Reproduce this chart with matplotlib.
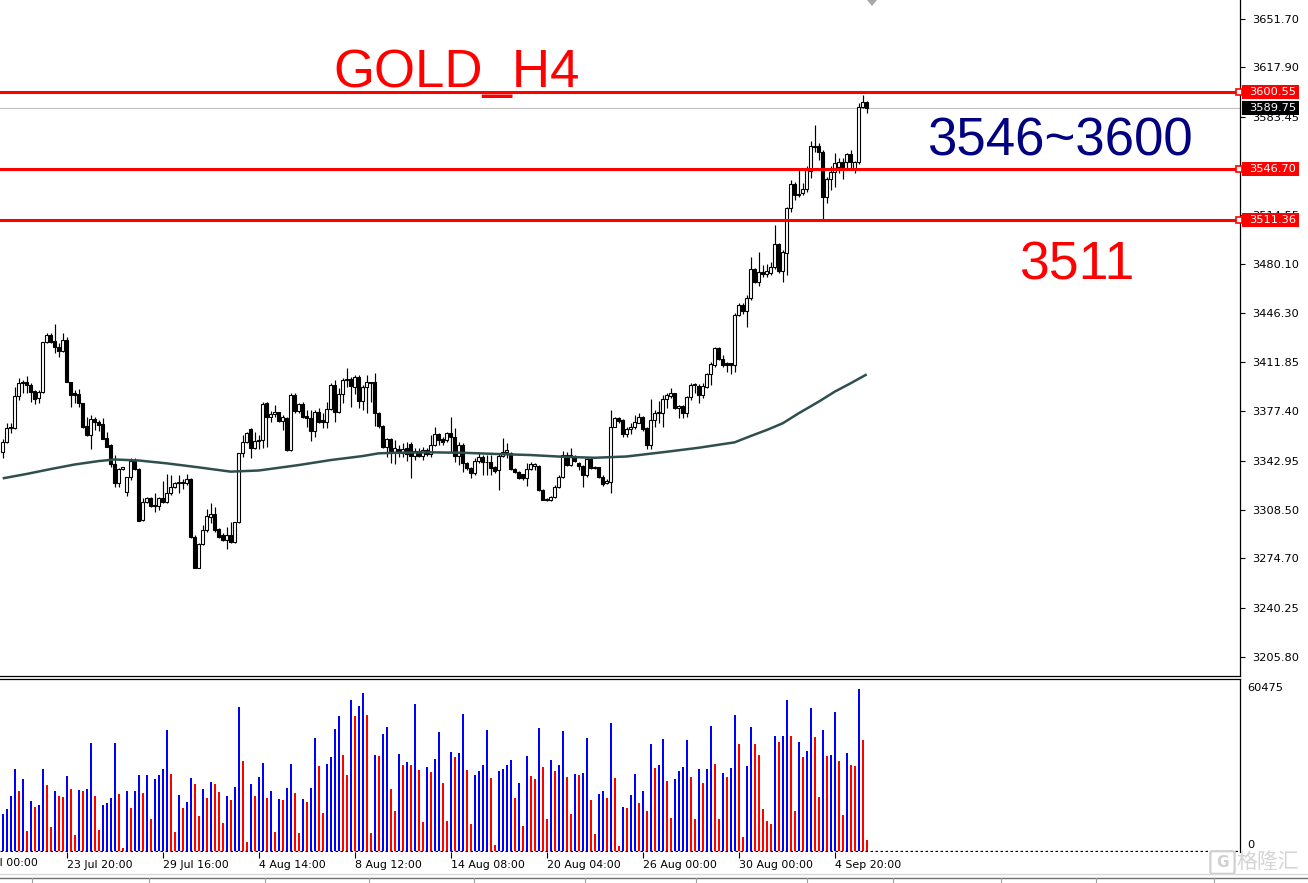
import matplotlib
matplotlib.use("Agg")
import matplotlib.pyplot as plt
from matplotlib.lines import Line2D
from matplotlib.patches import Rectangle, Polygon, FancyBboxPatch

# ---------------- data ----------------
opens = [
    3349.3, 3355.8, 3365.6, 3365.6, 3388.2, 3397.0, 3398.2, 3395.9, 3391.7, 3386.6,
    3390.8, 3425.7, 3430.6, 3426.6, 3422.2, 3419.9, 3427.3, 3397.7, 3390.0, 3389.4,
    3383.1, 3367.2, 3360.9, 3372.1, 3370.2, 3368.6, 3358.6, 3353.9, 3340.7, 3327.1,
    3336.9, 3321.0, 3331.3, 3342.8, 3337.0, 3301.5, 3313.9, 3316.7, 3312.0, 3311.5,
    3316.7, 3314.3, 3320.1, 3324.3, 3327.5, 3327.5, 3327.1, 3329.9, 3289.9, 3268.2,
    3284.5, 3294.5, 3303.8, 3305.7, 3295.0, 3291.0, 3287.5, 3291.0, 3286.0, 3299.9,
    3348.1, 3356.3, 3364.8, 3351.6, 3357.0, 3357.4, 3383.0, 3373.2, 3375.5, 3376.7,
    3370.9, 3373.0, 3350.4, 3388.8, 3377.9, 3382.3, 3374.2, 3372.5, 3363.9, 3376.7,
    3371.4, 3369.7, 3378.8, 3395.8, 3377.2, 3389.3, 3399.3, 3400.0, 3394.7, 3401.7,
    3384.9, 3394.2, 3397.7, 3397.7, 3376.5, 3367.0, 3352.3, 3358.1, 3348.8, 3350.9,
    3348.5, 3351.5, 3354.5, 3346.4, 3349.9, 3346.4, 3350.4, 3347.4, 3353.9, 3361.6,
    3357.9, 3357.4, 3362.5, 3359.5, 3346.5, 3354.0, 3341.1, 3337.6, 3334.1, 3342.8,
    3345.8, 3341.8, 3341.8, 3338.8, 3336.2, 3346.5, 3348.8, 3348.1, 3337.2, 3335.3,
    3333.4, 3330.6, 3337.2, 3339.5, 3339.5, 3322.5, 3316.5, 3315.5, 3317.8, 3324.8,
    3331.8, 3347.0, 3340.0, 3346.0, 3341.0, 3339.0, 3332.9, 3343.9, 3338.7, 3338.3,
    3331.8, 3327.1, 3328.3, 3366.8, 3372.6, 3371.4, 3361.6, 3364.9, 3366.3, 3369.6,
    3373.8, 3365.6, 3354.0, 3371.4, 3376.6, 3376.6, 3385.9, 3388.2, 3390.0, 3379.6,
    3381.2, 3376.1, 3387.3, 3395.9, 3395.2, 3388.9, 3394.8, 3403.6, 3409.9, 3421.5,
    3413.8, 3411.5, 3411.0, 3409.7, 3444.8, 3451.8, 3447.9, 3456.5, 3476.8, 3468.1,
    3475.1, 3473.5, 3474.4, 3478.2, 3494.5, 3475.8, 3488.4, 3519.4, 3536.4, 3528.7,
    3529.9, 3532.7, 3545.7, 3562.5, 3563.0, 3559.0, 3527.5, 3539.7, 3545.0, 3548.5,
    3551.5, 3552.0, 3557.1, 3546.9, 3551.5, 3590.5, 3593.5,
]
highs = [
    3358.1, 3369.1, 3369.1, 3394.3, 3400.5, 3399.4, 3402.2, 3397.0, 3392.4, 3392.4,
    3426.2, 3432.0, 3432.5, 3438.5, 3425.0, 3432.5, 3429.7, 3398.2, 3392.4, 3392.8,
    3383.5, 3373.7, 3374.9, 3373.3, 3371.4, 3372.6, 3363.3, 3354.4, 3346.9, 3337.6,
    3338.8, 3331.8, 3344.6, 3345.0, 3337.6, 3316.7, 3317.8, 3317.8, 3320.1, 3317.8,
    3329.0, 3333.7, 3333.0, 3327.8, 3333.0, 3330.0, 3333.7, 3330.6, 3291.0, 3285.2,
    3298.0, 3309.0, 3313.6, 3310.4, 3295.7, 3292.2, 3296.8, 3300.3, 3300.3, 3348.6,
    3360.9, 3363.3, 3365.5, 3363.2, 3360.9, 3384.2, 3384.2, 3377.9, 3381.8, 3377.2,
    3374.9, 3373.7, 3390.0, 3390.0, 3383.0, 3384.2, 3378.4, 3378.4, 3378.4, 3379.5,
    3376.0, 3384.2, 3397.0, 3399.3, 3393.5, 3400.5, 3407.5, 3401.7, 3402.8, 3402.8,
    3395.8, 3402.8, 3398.2, 3404.0, 3377.2, 3368.0, 3358.6, 3358.6, 3357.4, 3353.9,
    3355.0, 3356.2, 3356.2, 3351.6, 3351.6, 3352.3, 3351.6, 3360.9, 3366.7, 3362.5,
    3359.7, 3363.2, 3373.7, 3365.5, 3356.0, 3355.5, 3342.0, 3338.5, 3344.6, 3348.0,
    3347.0, 3347.0, 3347.0, 3339.5, 3347.4, 3358.6, 3355.1, 3349.0, 3338.0, 3336.0,
    3334.0, 3341.1, 3341.8, 3341.1, 3340.0, 3323.0, 3317.0, 3318.5, 3326.0, 3333.0,
    3350.0, 3349.0, 3352.0, 3347.0, 3342.0, 3340.0, 3344.6, 3344.6, 3339.2, 3338.7,
    3332.9, 3329.9, 3378.4, 3373.8, 3373.2, 3371.8, 3366.8, 3369.6, 3374.9, 3376.1,
    3374.2, 3366.8, 3385.9, 3378.4, 3385.0, 3388.9, 3390.0, 3393.6, 3390.5, 3381.9,
    3381.9, 3388.2, 3397.1, 3397.1, 3396.6, 3397.1, 3404.5, 3412.2, 3422.7, 3422.7,
    3416.9, 3412.2, 3411.5, 3446.0, 3453.5, 3453.0, 3458.8, 3485.6, 3477.5, 3489.1,
    3479.8, 3480.5, 3482.1, 3507.8, 3495.4, 3490.3, 3520.6, 3539.2, 3538.0, 3546.2,
    3536.9, 3549.0, 3566.7, 3577.6, 3564.8, 3560.2, 3541.5, 3549.0, 3557.8, 3554.8,
    3554.3, 3557.8, 3560.2, 3552.5, 3592.8, 3598.6, 3594.4,
]
lows = [
    3344.6, 3355.1, 3362.0, 3365.0, 3385.4, 3390.5, 3390.0, 3384.2, 3382.4, 3383.5,
    3390.0, 3425.0, 3425.0, 3418.5, 3415.2, 3419.2, 3397.7, 3380.7, 3383.0, 3380.7,
    3365.6, 3360.2, 3350.9, 3364.4, 3364.0, 3357.9, 3352.3, 3338.8, 3324.3, 3324.8,
    3336.5, 3318.5, 3329.5, 3336.5, 3301.0, 3301.0, 3313.2, 3310.4, 3307.3, 3308.5,
    3313.2, 3313.2, 3319.0, 3323.6, 3320.1, 3323.0, 3326.0, 3288.7, 3267.7, 3267.7,
    3284.0, 3293.4, 3299.2, 3293.4, 3288.7, 3287.1, 3281.0, 3285.2, 3285.2, 3299.2,
    3345.8, 3355.6, 3344.6, 3350.9, 3350.9, 3351.6, 3352.7, 3370.2, 3373.7, 3370.2,
    3364.4, 3349.9, 3349.9, 3376.0, 3376.5, 3372.5, 3366.7, 3356.9, 3359.7, 3369.2,
    3365.5, 3365.5, 3378.3, 3370.2, 3376.0, 3383.5, 3394.7, 3380.7, 3389.5, 3379.5,
    3378.3, 3376.5, 3384.2, 3367.2, 3366.0, 3351.6, 3345.7, 3341.1, 3340.6, 3345.3,
    3345.7, 3342.9, 3330.6, 3343.4, 3345.3, 3343.4, 3346.2, 3345.7, 3353.2, 3353.9,
    3353.9, 3356.2, 3349.0, 3342.0, 3340.0, 3335.0, 3336.5, 3330.6, 3333.0, 3341.5,
    3333.0, 3333.0, 3333.0, 3334.5, 3322.5, 3345.8, 3344.6, 3336.5, 3334.1, 3330.5,
    3329.5, 3325.5, 3336.5, 3336.5, 3321.8, 3315.5, 3314.8, 3314.8, 3316.6, 3323.6,
    3331.0, 3339.2, 3339.0, 3342.0, 3336.4, 3324.3, 3331.8, 3336.9, 3336.9, 3330.6,
    3325.2, 3326.6, 3320.6, 3366.2, 3369.0, 3359.8, 3359.3, 3361.6, 3364.9, 3369.1,
    3364.0, 3350.9, 3350.9, 3366.3, 3369.6, 3366.8, 3379.6, 3386.6, 3378.9, 3372.6,
    3372.6, 3373.8, 3385.4, 3390.0, 3383.6, 3386.6, 3393.6, 3395.9, 3408.7, 3413.4,
    3408.7, 3405.2, 3403.6, 3405.2, 3443.8, 3445.5, 3436.2, 3455.3, 3467.0, 3465.1,
    3471.6, 3471.6, 3472.8, 3476.8, 3474.0, 3468.1, 3472.8, 3517.1, 3525.2, 3527.5,
    3528.7, 3531.1, 3540.4, 3559.0, 3553.2, 3511.2, 3523.3, 3532.2, 3534.1, 3543.9,
    3539.9, 3547.4, 3546.2, 3543.9, 3550.1, 3589.3, 3585.8,
]
closes = [
    3355.8, 3365.6, 3366.2, 3388.2, 3397.0, 3398.2, 3395.9, 3391.2, 3385.9, 3391.2,
    3425.7, 3430.6, 3426.2, 3422.2, 3419.9, 3427.3, 3397.7, 3388.9, 3389.0, 3383.1,
    3366.8, 3360.9, 3372.1, 3369.8, 3367.9, 3358.1, 3352.8, 3340.7, 3327.1, 3336.9,
    3338.3, 3331.3, 3342.8, 3337.0, 3301.0, 3313.9, 3316.7, 3311.5, 3311.5, 3316.7,
    3314.3, 3320.1, 3324.3, 3327.1, 3327.6, 3327.6, 3329.9, 3289.9, 3268.2, 3284.5,
    3294.5, 3304.3, 3305.7, 3294.5, 3289.9, 3287.5, 3291.0, 3286.4, 3299.9, 3348.1,
    3356.3, 3362.1, 3351.6, 3356.7, 3357.4, 3382.3, 3373.5, 3375.5, 3377.2, 3370.9,
    3373.2, 3350.4, 3388.8, 3377.9, 3382.3, 3373.7, 3372.5, 3363.9, 3376.7, 3370.2,
    3369.7, 3378.8, 3395.8, 3377.2, 3389.3, 3399.3, 3400.0, 3395.1, 3401.7, 3384.9,
    3394.2, 3397.7, 3397.0, 3376.5, 3367.0, 3352.3, 3358.1, 3348.8, 3351.6, 3348.5,
    3350.9, 3347.5, 3346.4, 3349.9, 3346.4, 3350.4, 3347.4, 3353.9, 3361.6, 3357.4,
    3356.2, 3362.1, 3359.5, 3346.5, 3354.0, 3341.1, 3337.6, 3334.1, 3342.8, 3345.8,
    3341.8, 3342.2, 3337.6, 3335.8, 3346.5, 3348.8, 3350.2, 3337.2, 3334.8, 3331.1,
    3330.6, 3337.2, 3340.4, 3340.8, 3322.5, 3315.5, 3315.3, 3317.8, 3324.8, 3331.8,
    3347.0, 3340.0, 3347.0, 3343.0, 3339.2, 3332.9, 3343.9, 3337.6, 3337.6, 3331.3,
    3326.6, 3329.0, 3366.8, 3372.6, 3371.0, 3361.6, 3364.9, 3366.8, 3370.3, 3373.8,
    3364.9, 3354.0, 3371.4, 3376.6, 3377.0, 3385.9, 3388.9, 3390.0, 3379.6, 3381.2,
    3376.1, 3387.3, 3395.9, 3396.5, 3388.9, 3395.2, 3403.6, 3410.6, 3421.5, 3413.8,
    3409.9, 3409.9, 3409.7, 3444.8, 3451.8, 3447.9, 3456.5, 3476.8, 3468.1, 3475.1,
    3473.5, 3475.8, 3478.2, 3494.5, 3475.8, 3489.1, 3519.4, 3536.4, 3528.7, 3529.7,
    3532.7, 3546.2, 3563.0, 3563.0, 3559.0, 3527.5, 3539.7, 3545.0, 3551.3, 3551.5,
    3548.5, 3557.1, 3551.5, 3551.5, 3590.5, 3593.5, 3589.75,
]
volumes = [
    13813, 15680, 20532, 30611, 22399, 26878, 7467, 18666, 16426, 17173,
    30611, 24639, 8960, 22399, 20532, 20159, 27998, 23145, 5974, 22772,
    22399, 23145, 40317, 20532, 7840, 17173, 17919, 19786, 40317, 21279,
    1121, 22399, 16053, 22399, 28371, 21652, 28371, 11947, 26878, 28371,
    30611, 45169, 28745, 7094, 20906, 16053, 18293, 27252, 25012, 13067,
    23145, 19786, 25758, 25012, 22026, 10454, 20532, 19039, 23892, 53755,
    33598, 3361, 25012, 20532, 27625, 32851, 19786, 22399, 7094, 19412,
    19039, 23519, 32478, 21652, 6721, 19412, 18293, 23519, 42183, 31731,
    14186, 32478, 35091, 45543, 50396, 35837, 28371, 56368, 50396, 54128,
    58981, 50769, 6721, 35837, 35464, 43676, 46289, 23145, 14933, 36211,
    32104, 33224, 32104, 54875, 30238, 10827, 31358, 29491, 34344, 44423,
    25385, 11200,
    36957, 35091, 36584, 51142, 30238, 10080, 28371, 29865, 32104, 45169,
    27252, 2241, 29865, 30611, 32104, 33971, 19786, 25385, 9334, 35464,
    27998, 26878, 45916, 31358, 11947, 33971, 29865, 32104, 44796, 27625,
    13813, 28745, 28496, 29118, 42183, 19039, 6347, 21279, 22399, 19786,
    47783, 27252, 1868, 16426, 16053, 20906, 28745, 17919, 22399, 14933,
    39943, 30984, 32104, 41810, 26132, 12320, 26878, 29865, 31358, 41437,
    27625, 11947, 30611, 25385, 30611, 46663, 32478, 11947, 29118, 27625,
    30984, 50769, 39943, 5227, 31731, 46289, 39943, 35837, 15680, 11200,
    10080, 42930, 40690, 42930, 56368, 42930, 14933, 40690, 35091, 37330,
    53382, 42556, 20159, 45169, 35464, 35837, 51889, 33598, 13440, 36584,
    32104, 31731, 60475, 41437, 4108,
]
# moving average line, read at a set of bar positions
ma_bar = [0, 6, 12, 18, 24, 28, 34, 41, 49, 57, 64, 74, 82, 90, 94, 98, 107,
          115, 124, 132, 140, 148, 156, 166, 174, 183, 187, 191, 195, 199, 204,
          208, 212, 216]
ma_val = [3330.6, 3333.7, 3337.1, 3340.3, 3342.7, 3343.8, 3343.1, 3341.1,
          3338.3, 3335.3, 3336.1, 3339.9, 3343.4, 3346.2, 3348.1, 3348.5,
          3348.8, 3348.5, 3347.6, 3346.9, 3345.7, 3345.0, 3345.9, 3349.2,
          3352.0, 3355.8, 3360.2, 3364.4, 3369.1, 3376.1, 3384.2, 3391.2,
          3397.1, 3403.3]

price_ticks = [3651.70, 3617.90, 3583.45, 3549.00, 3514.55, 3480.10, 3446.30,
               3411.85, 3377.40, 3342.95, 3308.50, 3274.70, 3240.25, 3205.80]
time_bar = [16, 40, 64, 88, 112, 136, 160, 184, 208]
time_labels = ["23 Jul 20:00", "29 Jul 16:00", "4 Aug 14:00", "8 Aug 12:00",
               "14 Aug 08:00", "20 Aug 04:00", "26 Aug 00:00", "30 Aug 00:00",
               "4 Sep 20:00"]
first_label = "18 Jul 00:00"
levels = [3600.55, 3546.70, 3511.36]
level_labels = ["3600.55", "3546.70", "3511.36"]
last_price = 3589.75
vol_max = 60475

# ---------------- layout ----------------
W, H, DPI = 1308, 883, 100
fig = plt.figure(figsize=(W / DPI, H / DPI), dpi=DPI, facecolor="white")


def fx(px):
    return px / W


def fy(py):
    return 1 - py / H


AXR = 1240.0
MAIN_BOT = 676.0
VOL_TOP, VOL_BOT = 679.0, 852.0

ax = fig.add_axes([0, fy(MAIN_BOT), fx(AXR), MAIN_BOT / H])
axv = fig.add_axes([0, fy(VOL_BOT), fx(AXR), (VOL_BOT - VOL_TOP) / H])

PXB = 4.0
X0 = 2.7
xmin, xmax = -X0 / PXB, (AXR - X0) / PXB
PPP = 0.699  # price per pixel
ymax = 3651.70 + 19 * PPP
ymin = ymax - MAIN_BOT * PPP

n = len(closes)
bars = list(range(n))

# ---------------- candles ----------------
ax.vlines(bars, lows, highs, color="black", lw=0.85, zorder=2)
bottoms = [min(o, c) for o, c in zip(opens, closes)]
heights = [max(abs(c - o), 0.35) for o, c in zip(opens, closes)]
fcols = ["white" if c >= o else "black" for o, c in zip(opens, closes)]
ax.bar(bars, heights, bottom=bottoms, width=0.68, color=fcols,
       edgecolor="black", linewidth=0.8, zorder=3)

ax.plot(ma_bar, ma_val, color="#2F4F4F", lw=1.8, zorder=4,
        solid_capstyle="butt")

ax.axhline(last_price, color="#C0C0C0", lw=0.8, zorder=1)
for lv in levels:
    ax.axhline(lv, color="#FF0000", lw=2.2, zorder=6)
    ax.plot([xmax - 0.3], [lv], marker="s", ms=4.2, mfc="white", mec="#FF0000",
            mew=1.2, clip_on=False, zorder=7)

ax.set_xlim(xmin, xmax)
ax.set_ylim(ymin, ymax)
ax.set_xticks([])
ax.yaxis.tick_right()
ax.set_yticks(price_ticks)
ax.set_yticklabels([f"{t:.2f}" for t in price_ticks])
ax.tick_params(axis="y", direction="out", length=3.5, width=0.8, pad=5,
               labelsize=8.2, labelcolor="black", color="black")
for lab in ax.get_yticklabels():
    lab.set_family("DejaVu Sans")
for s in ["top", "left"]:
    ax.spines[s].set_visible(False)
for s in ["right", "bottom"]:
    ax.spines[s].set_color("black")
    ax.spines[s].set_linewidth(0.9)

# ---------------- volumes ----------------
vcols = []
for i, v in enumerate(volumes):
    if i == 0 or v > volumes[i - 1]:
        vcols.append("#0000FF")
    else:
        vcols.append("#FF0000")
axv.vlines(bars, 0, volumes, colors=vcols, lw=1.3, zorder=2,
           antialiased=False)
axv.set_xlim(xmin, xmax)
vpp = vol_max / (851.0 - 689.0)
axv.set_ylim(-(VOL_BOT - 851.0) * vpp, (851.0 - VOL_TOP) * vpp)
axv.axhline(0, color="black", lw=0.9, ls=(0, (2, 2)), zorder=3)
axv.set_yticks([])
axv.set_xticks(time_bar)
axv.set_xticklabels(time_labels)
axv.tick_params(axis="x", direction="out", length=4, width=0.8, pad=2,
                labelsize=7.9, color="black")
for lab in axv.get_xticklabels():
    lab.set_ha("left")
    lab.set_family("DejaVu Sans")
for s in ["left", "bottom"]:
    axv.spines[s].set_visible(False)
for s in ["top", "right"]:
    axv.spines[s].set_color("black")
    axv.spines[s].set_linewidth(0.9)

# partial first time label at the left edge
fig.text(fx(38), fy(852 + 6), first_label, fontsize=7.9, family="DejaVu Sans",
         ha="right", va="top", color="black")

# volume scale labels
fig.text(fx(1247), fy(688), f"{vol_max}", fontsize=8.2, family="DejaVu Sans",
         ha="left", va="center", color="black")
fig.text(fx(1247), fy(845), "0", fontsize=8.2, family="DejaVu Sans",
         ha="left", va="center", color="black")

# ---------------- right price boxes ----------------
def price_box(price, text, fc):
    yp = (ymax - price) / PPP
    fig.patches.append(Rectangle((fx(1242), fy(yp + 7)), fx(1299) - fx(1242),
                                 14 / H, transform=fig.transFigure,
                                 facecolor=fc, edgecolor="none", zorder=5))
    fig.text(fx(1249), fy(yp), text, fontsize=8.2, family="DejaVu Sans",
             color="white", ha="left", va="center", zorder=6)


for lv, lt in zip(levels, level_labels):
    price_box(lv, lt, "#FF0000")
price_box(last_price, f"{last_price:.2f}", "black")

# ---------------- big annotations ----------------
fig.text(fx(333), fy(87), "GOLD_H4", color="#FF0000", fontsize=38,
         family="Liberation Sans", ha="left", va="baseline")
fig.text(fx(927), fy(156), "3546~3600", color="#000080", fontsize=38,
         family="Liberation Sans", ha="left", va="baseline")
fig.text(fx(1019), fy(279), "3511", color="#FF0000", fontsize=38.5,
         family="Liberation Sans", ha="left", va="baseline")

# chart-shift marker at the top
fig.patches.append(Polygon([(fx(867), fy(0)), (fx(877), fy(0)), (fx(872), fy(6))],
                           closed=True, transform=fig.transFigure,
                           facecolor="#A8A8A8", edgecolor="none"))

# bottom status strip
fig.add_artist(Line2D([0, 1], [fy(873.5), fy(873.5)], color="#D8D8D8", lw=1.0,
                      transform=fig.transFigure))
fig.add_artist(Line2D([0, 1], [fy(877.5), fy(877.5)], color="#707070", lw=1.0,
                      transform=fig.transFigure))
for sx in [32, 149, 265, 369, 474, 585, 696, 807, 893, 1001, 1096, 1214]:
    fig.add_artist(Line2D([fx(sx), fx(sx)], [fy(878), fy(883)], color="#A0A0A0",
                          lw=0.8, transform=fig.transFigure))

# watermark
fig.patches.append(FancyBboxPatch((fx(1213), fy(872)), fx(19) - fx(0), 19 / H,
                                  boxstyle="round,pad=0.002",
                                  transform=fig.transFigure, facecolor="none",
                                  edgecolor="#D0D0D0", lw=1.6))
fig.text(fx(1222.5), fy(862.5), "G", fontsize=11, color="#D0D0D0",
         family="DejaVu Sans", weight="bold", ha="center", va="center")
fig.text(fx(1236), fy(862), "格隆汇", fontsize=15, color="#D4D4D4",
         family=["Noto Sans CJK SC", "DejaVu Sans"], ha="left", va="center")

fig.savefig("out.png", dpi=DPI, facecolor="white")
